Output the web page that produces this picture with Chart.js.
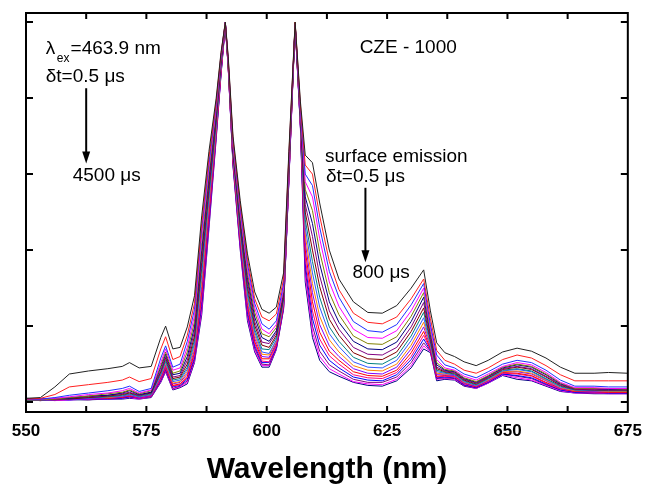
<!DOCTYPE html>
<html>
<head>
<meta charset="utf-8">
<script src="https://cdn.jsdelivr.net/npm/chart.js@4.4.1/dist/chart.umd.min.js"></script>
<style>
  html, body { margin: 0; padding: 0; background: #fff; }
  #wrap { width: 651px; height: 484px; position: relative; }
</style>
</head>
<body>
<div id="wrap"><canvas id="spectra"></canvas></div>
<script>
// wavelength grid (nm) shared by every spectrum
const wavelength = [550, 553, 556, 559, 563, 567, 570, 571.5, 573.5, 576,
  578, 579, 580.5, 582, 583.5, 585, 586.5, 588, 589.5, 590.5,
  591.4, 592, 593, 594.5, 596, 597.5, 599, 600.5, 602, 603.5,
  604.6, 605.9, 607, 608, 609.5, 611, 613, 615, 618, 621,
  624, 627, 630, 632.6, 634, 635.3, 637, 639, 641, 643.5,
  646, 649, 652, 655, 658, 661, 664, 668, 671, 675];

// normalised emission, earliest gate (0.5 us) first
const spec01 = [0.05, 0.06, 0.20, 0.37, 0.41, 0.44, 0.47, 0.52, 0.45, 0.47,
  0.85, 1.00, 0.70, 0.72, 0.99, 1.40, 2.45, 3.30, 4.00, 4.60,
  5.00, 4.55, 3.50, 2.65, 1.95, 1.45, 1.22, 1.17, 1.25, 1.70,
  3.30, 5.00, 3.95, 3.25, 3.15, 2.62, 2.00, 1.62, 1.32, 1.18,
  1.17, 1.27, 1.50, 1.74, 1.20, 0.78, 0.65, 0.60, 0.53, 0.48,
  0.55, 0.66, 0.71, 0.67, 0.58, 0.46, 0.38, 0.38, 0.39, 0.38];
const spec02 = [0.04, 0.05, 0.10, 0.20, 0.23, 0.26, 0.29, 0.33, 0.27, 0.31,
  0.70, 0.86, 0.56, 0.60, 0.88, 1.30, 2.35, 3.22, 3.95, 4.58,
  5.00, 4.52, 3.45, 2.60, 1.88, 1.36, 1.12, 1.07, 1.16, 1.62,
  3.25, 5.00, 3.90, 3.12, 3.00, 2.45, 1.85, 1.48, 1.17, 1.05,
  1.03, 1.12, 1.36, 1.62, 1.10, 0.68, 0.55, 0.50, 0.42, 0.38,
  0.45, 0.56, 0.62, 0.58, 0.48, 0.36, 0.28, 0.28, 0.28, 0.28];
const spec03 = [0.04, 0.04, 0.06, 0.09, 0.12, 0.15, 0.18, 0.21, 0.14, 0.18,
  0.58, 0.74, 0.46, 0.50, 0.80, 1.22, 2.28, 3.15, 3.92, 4.56,
  5.00, 4.50, 3.42, 2.55, 1.82, 1.30, 1.03, 0.96, 1.07, 1.56,
  3.20, 4.98, 3.85, 3.00, 2.85, 2.30, 1.72, 1.38, 1.06, 0.94,
  0.92, 1.02, 1.28, 1.56, 1.02, 0.62, 0.49, 0.45, 0.37, 0.32,
  0.40, 0.50, 0.55, 0.52, 0.42, 0.29, 0.21, 0.21, 0.20, 0.20];
const spec04 = [0.04, 0.04, 0.05, 0.07, 0.10, 0.12, 0.15, 0.18, 0.12, 0.16,
  0.52, 0.70, 0.42, 0.45, 0.72, 1.14, 2.20, 3.10, 3.88, 4.54,
  5.00, 4.48, 3.38, 2.50, 1.76, 1.24, 0.96, 0.90, 1.02, 1.50,
  3.15, 4.97, 3.82, 2.90, 2.70, 2.15, 1.58, 1.26, 0.96, 0.85,
  0.84, 0.94, 1.20, 1.50, 0.98, 0.56, 0.45, 0.42, 0.34, 0.29,
  0.37, 0.47, 0.52, 0.49, 0.39, 0.26, 0.19, 0.19, 0.18, 0.18];
const spec05 = [0.03, 0.03, 0.04, 0.06, 0.08, 0.11, 0.13, 0.16, 0.11, 0.15,
  0.48, 0.66, 0.38, 0.41, 0.66, 1.06, 2.10, 3.02, 3.84, 4.52,
  4.99, 4.46, 3.35, 2.45, 1.70, 1.18, 0.90, 0.86, 0.98, 1.47,
  3.12, 5.00, 3.80, 2.80, 2.52, 1.98, 1.44, 1.15, 0.87, 0.77,
  0.76, 0.86, 1.13, 1.44, 0.93, 0.52, 0.43, 0.41, 0.32, 0.27,
  0.35, 0.46, 0.50, 0.47, 0.37, 0.25, 0.18, 0.18, 0.18, 0.17];
const spec06 = [0.05, 0.04, 0.05, 0.05, 0.08, 0.09, 0.12, 0.15, 0.10, 0.13,
  0.46, 0.63, 0.36, 0.38, 0.60, 0.99, 2.00, 2.95, 3.80, 4.50,
  5.00, 4.47, 3.32, 2.40, 1.64, 1.12, 0.85, 0.80, 0.94, 1.44,
  3.10, 4.96, 3.78, 2.70, 2.35, 1.82, 1.32, 1.05, 0.80, 0.70,
  0.69, 0.79, 1.06, 1.38, 0.89, 0.49, 0.42, 0.40, 0.31, 0.26,
  0.34, 0.45, 0.49, 0.46, 0.36, 0.24, 0.18, 0.18, 0.17, 0.17];
const spec07 = [0.03, 0.03, 0.03, 0.06, 0.07, 0.09, 0.11, 0.13, 0.09, 0.13,
  0.42, 0.60, 0.33, 0.35, 0.55, 0.93, 1.92, 2.88, 3.76, 4.48,
  4.98, 4.45, 3.30, 2.36, 1.58, 1.06, 0.79, 0.77, 0.91, 1.41,
  3.07, 4.99, 3.76, 2.60, 2.18, 1.66, 1.20, 0.96, 0.72, 0.63,
  0.62, 0.72, 0.99, 1.31, 0.85, 0.46, 0.41, 0.39, 0.30, 0.25,
  0.33, 0.44, 0.47, 0.44, 0.34, 0.23, 0.17, 0.17, 0.16, 0.16];
const spec08 = [0.04, 0.03, 0.04, 0.04, 0.06, 0.08, 0.10, 0.12, 0.09, 0.12,
  0.40, 0.58, 0.31, 0.33, 0.50, 0.87, 1.84, 2.81, 3.72, 4.46,
  4.99, 4.44, 3.28, 2.32, 1.52, 1.01, 0.75, 0.72, 0.88, 1.38,
  3.05, 4.95, 3.74, 2.50, 2.00, 1.52, 1.09, 0.88, 0.65, 0.57,
  0.56, 0.66, 0.93, 1.24, 0.82, 0.44, 0.40, 0.38, 0.29, 0.24,
  0.32, 0.43, 0.46, 0.43, 0.33, 0.22, 0.17, 0.16, 0.16, 0.16];
const spec09 = [0.02, 0.04, 0.04, 0.05, 0.06, 0.07, 0.09, 0.11, 0.08, 0.11,
  0.38, 0.55, 0.29, 0.31, 0.46, 0.82, 1.76, 2.74, 3.68, 4.44,
  4.97, 4.45, 3.26, 2.28, 1.46, 0.96, 0.70, 0.69, 0.85, 1.36,
  3.03, 4.98, 3.72, 2.40, 1.85, 1.38, 0.99, 0.80, 0.59, 0.51,
  0.50, 0.60, 0.87, 1.18, 0.79, 0.42, 0.39, 0.37, 0.28, 0.23,
  0.31, 0.42, 0.44, 0.41, 0.31, 0.21, 0.16, 0.16, 0.15, 0.15];
const spec10 = [0.03, 0.02, 0.03, 0.04, 0.05, 0.07, 0.08, 0.10, 0.07, 0.10,
  0.36, 0.53, 0.27, 0.29, 0.43, 0.77, 1.68, 2.68, 3.65, 4.42,
  5.00, 4.43, 3.24, 2.24, 1.41, 0.92, 0.66, 0.64, 0.82, 1.34,
  3.01, 4.97, 3.70, 2.30, 1.70, 1.25, 0.90, 0.73, 0.53, 0.46,
  0.45, 0.55, 0.81, 1.11, 0.76, 0.40, 0.38, 0.36, 0.27, 0.22,
  0.30, 0.41, 0.43, 0.40, 0.30, 0.20, 0.16, 0.15, 0.15, 0.15];
const spec11 = [0.04, 0.03, 0.05, 0.05, 0.06, 0.06, 0.08, 0.10, 0.07, 0.10,
  0.35, 0.51, 0.25, 0.27, 0.40, 0.73, 1.60, 2.62, 3.62, 4.40,
  4.98, 4.42, 3.22, 2.20, 1.36, 0.88, 0.63, 0.62, 0.80, 1.32,
  2.99, 4.95, 3.69, 2.20, 1.56, 1.13, 0.82, 0.66, 0.48, 0.42,
  0.41, 0.50, 0.75, 1.05, 0.74, 0.38, 0.37, 0.36, 0.26, 0.22,
  0.29, 0.40, 0.41, 0.38, 0.29, 0.19, 0.15, 0.15, 0.14, 0.14];
const spec12 = [0.02, 0.04, 0.03, 0.03, 0.04, 0.06, 0.07, 0.09, 0.06, 0.09,
  0.33, 0.49, 0.24, 0.26, 0.37, 0.69, 1.52, 2.56, 3.59, 4.38,
  4.96, 4.44, 3.20, 2.17, 1.31, 0.84, 0.60, 0.59, 0.78, 1.30,
  2.97, 4.99, 3.67, 2.10, 1.44, 1.02, 0.74, 0.60, 0.44, 0.38,
  0.37, 0.46, 0.70, 0.99, 0.72, 0.36, 0.36, 0.35, 0.25, 0.21,
  0.28, 0.40, 0.40, 0.37, 0.28, 0.18, 0.15, 0.14, 0.14, 0.14];
const spec13 = [0.03, 0.02, 0.04, 0.04, 0.05, 0.05, 0.06, 0.08, 0.06, 0.09,
  0.32, 0.47, 0.22, 0.24, 0.34, 0.65, 1.45, 2.50, 3.56, 4.36,
  4.99, 4.41, 3.18, 2.14, 1.27, 0.80, 0.57, 0.57, 0.76, 1.28,
  2.96, 4.96, 3.66, 2.00, 1.32, 0.92, 0.67, 0.55, 0.40, 0.35,
  0.34, 0.42, 0.65, 0.93, 0.70, 0.34, 0.35, 0.34, 0.25, 0.20,
  0.28, 0.39, 0.38, 0.35, 0.26, 0.18, 0.14, 0.14, 0.13, 0.13];
const spec14 = [0.05, 0.03, 0.02, 0.04, 0.04, 0.06, 0.07, 0.08, 0.05, 0.08,
  0.30, 0.45, 0.21, 0.23, 0.32, 0.62, 1.38, 2.45, 3.54, 4.34,
  4.97, 4.42, 3.16, 2.11, 1.23, 0.77, 0.54, 0.53, 0.74, 1.27,
  2.94, 4.97, 3.64, 1.90, 1.20, 0.83, 0.61, 0.50, 0.36, 0.32,
  0.31, 0.39, 0.60, 0.88, 0.69, 0.33, 0.34, 0.33, 0.24, 0.20,
  0.27, 0.38, 0.37, 0.34, 0.25, 0.17, 0.14, 0.13, 0.13, 0.13];
const spec15 = [0.02, 0.03, 0.04, 0.03, 0.05, 0.04, 0.05, 0.07, 0.05, 0.08,
  0.29, 0.44, 0.20, 0.22, 0.30, 0.59, 1.32, 2.40, 3.52, 4.33,
  4.98, 4.40, 3.15, 2.08, 1.19, 0.74, 0.52, 0.52, 0.72, 1.25,
  2.93, 4.95, 3.63, 1.82, 1.10, 0.75, 0.55, 0.45, 0.33, 0.29,
  0.28, 0.36, 0.56, 0.83, 0.68, 0.32, 0.33, 0.32, 0.23, 0.19,
  0.26, 0.37, 0.35, 0.32, 0.24, 0.16, 0.13, 0.13, 0.12, 0.12];
const spec16 = [0.03, 0.02, 0.03, 0.04, 0.03, 0.05, 0.06, 0.07, 0.05, 0.07,
  0.28, 0.42, 0.18, 0.21, 0.28, 0.56, 1.26, 2.36, 3.50, 4.32,
  4.96, 4.41, 3.13, 2.05, 1.15, 0.71, 0.50, 0.49, 0.71, 1.24,
  2.92, 4.98, 3.62, 1.74, 1.00, 0.67, 0.49, 0.41, 0.30, 0.26,
  0.26, 0.33, 0.52, 0.78, 0.67, 0.31, 0.32, 0.31, 0.22, 0.19,
  0.26, 0.37, 0.34, 0.31, 0.23, 0.16, 0.13, 0.12, 0.12, 0.12];
const spec17 = [0.04, 0.04, 0.02, 0.03, 0.04, 0.04, 0.05, 0.06, 0.04, 0.07,
  0.27, 0.41, 0.17, 0.20, 0.26, 0.54, 1.20, 2.32, 3.48, 4.31,
  4.97, 4.39, 3.12, 2.02, 1.11, 0.68, 0.48, 0.48, 0.70, 1.23,
  2.91, 4.96, 3.61, 1.66, 0.92, 0.60, 0.44, 0.37, 0.27, 0.24,
  0.23, 0.30, 0.48, 0.74, 0.66, 0.30, 0.31, 0.30, 0.22, 0.18,
  0.25, 0.36, 0.32, 0.29, 0.22, 0.15, 0.12, 0.12, 0.11, 0.11];
const spec18 = [0.02, 0.03, 0.03, 0.03, 0.03, 0.04, 0.04, 0.05, 0.04, 0.06,
  0.26, 0.40, 0.16, 0.19, 0.24, 0.52, 1.15, 2.28, 3.46, 4.30,
  4.95, 4.40, 3.10, 2.00, 1.07, 0.66, 0.46, 0.46, 0.69, 1.22,
  2.90, 4.95, 3.60, 1.58, 0.85, 0.55, 0.40, 0.34, 0.26, 0.22,
  0.21, 0.28, 0.45, 0.70, 0.65, 0.28, 0.30, 0.29, 0.21, 0.18,
  0.25, 0.35, 0.30, 0.28, 0.21, 0.14, 0.12, 0.11, 0.11, 0.11];

const spectra = [spec01, spec02, spec03, spec04, spec05, spec06, spec07, spec08, spec09,
  spec10, spec11, spec12, spec13, spec14, spec15, spec16, spec17, spec18];

// Origin-style colour cycle
const lineColors = ['#222222', '#ff2020', '#2030ff', '#ff00ff', '#808000', '#000080',
  '#800080', '#800000', '#008080', '#3355ff', '#ff8000', '#8000ff', '#ff0000',
  '#ff0080', '#0000ff', '#800080', '#ff00ff', '#000080'];

const xTicks = [550, 575, 600, 625, 650, 675];
const FONT = "'Liberation Sans', Arial, sans-serif";

// text notes, anchored in data coordinates
const notes = [
  { text: 'λ', x: 554.1, y: 4.58, size: 19 },
  { text: 'ex', x: 556.4, y: 4.47, size: 12 },
  { text: '=463.9 nm', x: 559.25, y: 4.58, size: 19 },
  { text: 'δt=0.5 μs', x: 554.1, y: 4.21, size: 19 },
  { text: '4500 μs', x: 559.7, y: 2.91, size: 19 },
  { text: 'CZE - 1000', x: 619.3, y: 4.59, size: 19 },
  { text: 'surface emission', x: 612.1, y: 3.16, size: 19 },
  { text: 'δt=0.5 μs', x: 612.3, y: 2.89, size: 19 },
  { text: '800 μs', x: 617.8, y: 1.63, size: 19 }
];
const arrows = [
  { x: 562.5, from: 4.13, to: 3.14 },
  { x: 620.5, from: 2.82, to: 1.84 }
];

const datasets = spectra.map((s, i) => ({
  data: s.map((v, j) => ({ x: wavelength[j], y: v })),
  borderColor: lineColors[i],
  borderWidth: 1,
  pointRadius: 0,
  fill: false,
  tension: 0
}));

// box frame with inward ticks on all four sides, plus the notes
const frameAndNotes = {
  id: 'frameAndNotes',
  afterDatasetsDraw(chart) {
    const { ctx, chartArea: a, scales: { x, y } } = chart;
    ctx.save();
    ctx.strokeStyle = '#000';
    ctx.lineWidth = 2;
    ctx.strokeRect(a.left, a.top, a.right - a.left, a.bottom - a.top);
    ctx.beginPath();
    for (let w = 562.5; w < 675; w += 12.5) {
      const px = x.getPixelForValue(w);
      ctx.moveTo(px, a.bottom); ctx.lineTo(px, a.bottom - 6);
      ctx.moveTo(px, a.top); ctx.lineTo(px, a.top + 6);
    }
    for (let v = 0; v <= 5; v++) {
      const py = y.getPixelForValue(v);
      ctx.moveTo(a.left, py); ctx.lineTo(a.left + 7, py);
      ctx.moveTo(a.right, py); ctx.lineTo(a.right - 7, py);
    }
    ctx.stroke();

    ctx.fillStyle = '#000';
    ctx.textBaseline = 'alphabetic';
    notes.forEach(n => {
      ctx.font = n.size + 'px ' + FONT;
      ctx.fillText(n.text, x.getPixelForValue(n.x), y.getPixelForValue(n.y));
    });

    arrows.forEach(ar => {
      const px = x.getPixelForValue(ar.x);
      const y0 = y.getPixelForValue(ar.from);
      const y1 = y.getPixelForValue(ar.to);
      ctx.lineWidth = 2;
      ctx.beginPath();
      ctx.moveTo(px, y0); ctx.lineTo(px, y1 - 10);
      ctx.stroke();
      ctx.beginPath();
      ctx.moveTo(px - 4, y1 - 12); ctx.lineTo(px + 4, y1 - 12); ctx.lineTo(px, y1);
      ctx.closePath();
      ctx.fill();
    });
    ctx.restore();
  }
};

new Chart(document.getElementById('spectra'), {
  type: 'line',
  data: { datasets },
  options: {
    responsive: true,
    maintainAspectRatio: false,
    animation: false,
    layout: { padding: { top: 13, right: 17, left: 0, bottom: 0 } },
    plugins: { legend: { display: false }, tooltip: { enabled: false } },
    scales: {
      x: {
        type: 'linear',
        min: 550,
        max: 675,
        afterBuildTicks: s => { s.ticks = xTicks.map(v => ({ value: v })); },
        afterFit: s => { s.height = 72; },
        ticks: {
          color: '#000',
          padding: 9,
          maxRotation: 0,
          font: { family: FONT, size: 17, weight: 'bold' }
        },
        grid: { display: false, drawTicks: false },
        border: { display: false },
        title: {
          display: true,
          text: 'Wavelength (nm)',
          color: '#000',
          padding: { top: 0, bottom: -1 },
          font: { family: FONT, size: 30, weight: 'bold', lineHeight: 1 }
        }
      },
      y: {
        min: -0.13,
        max: 5.12,
        afterFit: s => { s.width = 26; },
        ticks: { display: false },
        grid: { display: false, drawTicks: false },
        border: { display: false }
      }
    }
  },
  plugins: [frameAndNotes]
});
</script>
</body>
</html>
